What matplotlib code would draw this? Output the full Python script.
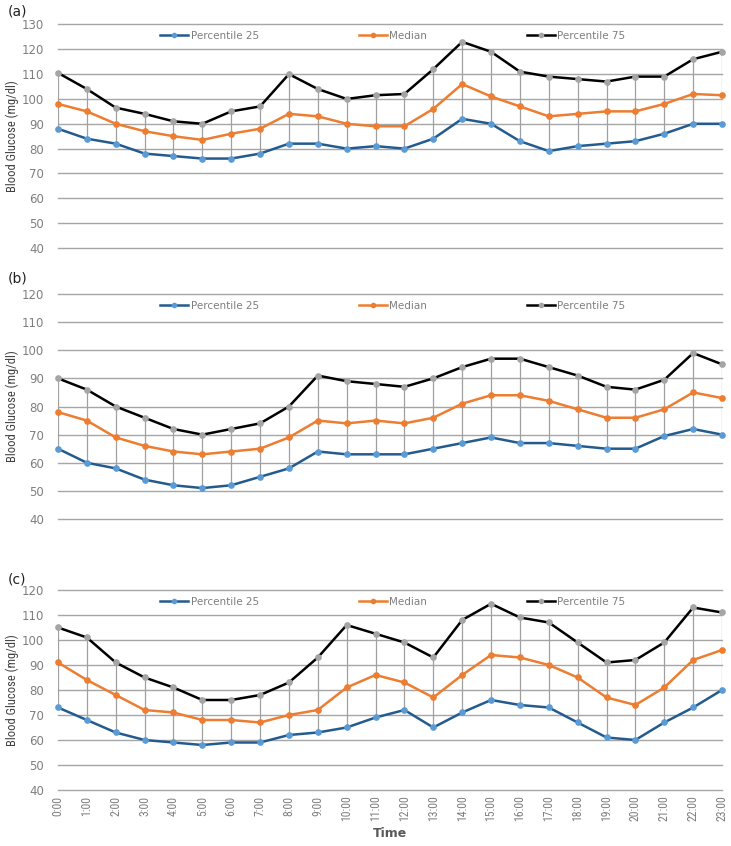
import matplotlib.pyplot as plt
from matplotlib import font_manager

hours = ["%d:00" % h for h in range(24)]

# panel (a)
a_p25 = [88, 84, 82, 78, 77, 76, 76, 78, 82, 82, 80, 81, 80, 84, 92, 90, 83, 79, 81, 82, 83, 86, 90, 90]
a_med = [98, 95, 90, 87, 85, 83.5, 86, 88, 94, 93, 90, 89, 89, 96, 106, 101, 97, 93, 94, 95, 95, 98, 102, 101.5]
a_p75 = [110.5, 104, 96.5, 94, 91, 90, 95, 97, 110, 104, 100, 101.5, 102, 112, 123, 119, 111, 109, 108, 107, 109, 109, 116, 119]

# panel (b)
b_p25 = [65, 60, 58, 54, 52, 51, 52, 55, 58, 64, 63, 63, 63, 65, 67, 69, 67, 67, 66, 65, 65, 69.5, 72, 70]
b_med = [78, 75, 69, 66, 64, 63, 64, 65, 69, 75, 74, 75, 74, 76, 81, 84, 84, 82, 79, 76, 76, 79, 85, 83]
b_p75 = [90, 86, 80, 76, 72, 70, 72, 74, 80, 91, 89, 88, 87, 90, 94, 97, 97, 94, 91, 87, 86, 89.5, 99, 95]

# panel (c)
c_p25 = [73, 68, 63, 60, 59, 58, 59, 59, 62, 63, 65, 69, 72, 65, 71, 76, 74, 73, 67, 61, 60, 67, 73, 80]
c_med = [91, 84, 78, 72, 71, 68, 68, 67, 70, 72, 81, 86, 83, 77, 86, 94, 93, 90, 85, 77, 74, 81, 92, 96]
c_p75 = [105, 101, 91, 85, 81, 76, 76, 78, 83, 93, 106, 102.5, 99, 93, 108, 114.5, 109, 107, 99, 91, 92, 99, 113, 111]

panels = [
    ("(a)", a_p25, a_med, a_p75, 130),
    ("(b)", b_p25, b_med, b_p75, 120),
    ("(c)", c_p25, c_med, c_p75, 120),
]

# pick a narrow font if one is around
names = set(f.name for f in font_manager.fontManager.ttflist)
narrow = "DejaVu Sans"
for cand in ["Liberation Sans Narrow", "DejaVu Sans Condensed", "Roboto Condensed", "Open Sans Condensed"]:
    if cand in names:
        narrow = cand
        break
narrow_kw = dict(family=[narrow, "DejaVu Sans"], fontstretch="condensed")

grid_col = "#a6a6a6"
tick_col = "#7f7f7f"

fig = plt.figure(figsize=(7.31, 8.46), dpi=100)
boxes = [
    (0.0793, 0.7069, 0.9084, 0.2642),
    (0.0793, 0.3865, 0.9084, 0.2660),
    (0.0793, 0.0662, 0.9084, 0.2364),
]
label_y = [0.986, 0.671, 0.315]

x = list(range(24))
for i, (tag, p25, med, p75, ymax) in enumerate(panels):
    ax = fig.add_axes(boxes[i])
    ax.vlines(x, p25, p75, color="#a0a0a0", lw=0.9, zorder=1)
    ax.plot(x, p25, color="#245b8e", lw=1.8, marker="o", ms=3.8,
            mfc="#5b9bd5", mec="#5b9bd5", label="Percentile 25", zorder=3, clip_on=False)
    ax.plot(x, med, color="#ed7d31", lw=1.8, marker="o", ms=3.8,
            mfc="#ed7d31", mec="#ed7d31", label="Median", zorder=3, clip_on=False)
    ax.plot(x, p75, color="#000000", lw=1.8, marker="o", ms=3.8,
            mfc="#a5a5a5", mec="#a5a5a5", label="Percentile 75", zorder=3, clip_on=False)

    ax.set_xlim(0, 23)
    ax.set_ylim(40, ymax)
    ax.set_yticks(range(40, ymax + 1, 10))
    ax.yaxis.grid(True, color=grid_col, lw=1.0, zorder=0)
    for gl in ax.get_ygridlines():
        gl.set_clip_on(False)
    ax.set_axisbelow(True)
    for s in ax.spines.values():
        s.set_visible(False)
    ax.tick_params(axis="y", length=0, labelsize=8.5, labelcolor=tick_col, pad=10)
    ax.tick_params(axis="x", length=0)
    ax.set_ylabel("Blood Glucose (mg/dl)", fontsize=9, color="#404040", labelpad=2, **narrow_kw)
    ax.set_xticks(x)
    if i < 2:
        ax.set_xticklabels([])
    else:
        ax.set_xticklabels(hours, rotation=90, fontsize=8.5, color=tick_col, **narrow_kw)
        ax.tick_params(axis="x", pad=4)
        ax.set_xlabel("Time", fontsize=9, color="#595959", fontweight="bold", labelpad=4)

    leg = ax.legend(loc="upper left", bbox_to_anchor=(0.14, 1.012), ncol=3,
                    frameon=False, fontsize=7.5, handlelength=2.7,
                    handletextpad=0.2, columnspacing=9.6, markerscale=0.8)
    for t in leg.get_texts():
        t.set_color(tick_col)

    fig.text(0.011, label_y[i], tag, fontsize=10, color="#222222", va="center")

fig.savefig("out.png", dpi=100)
